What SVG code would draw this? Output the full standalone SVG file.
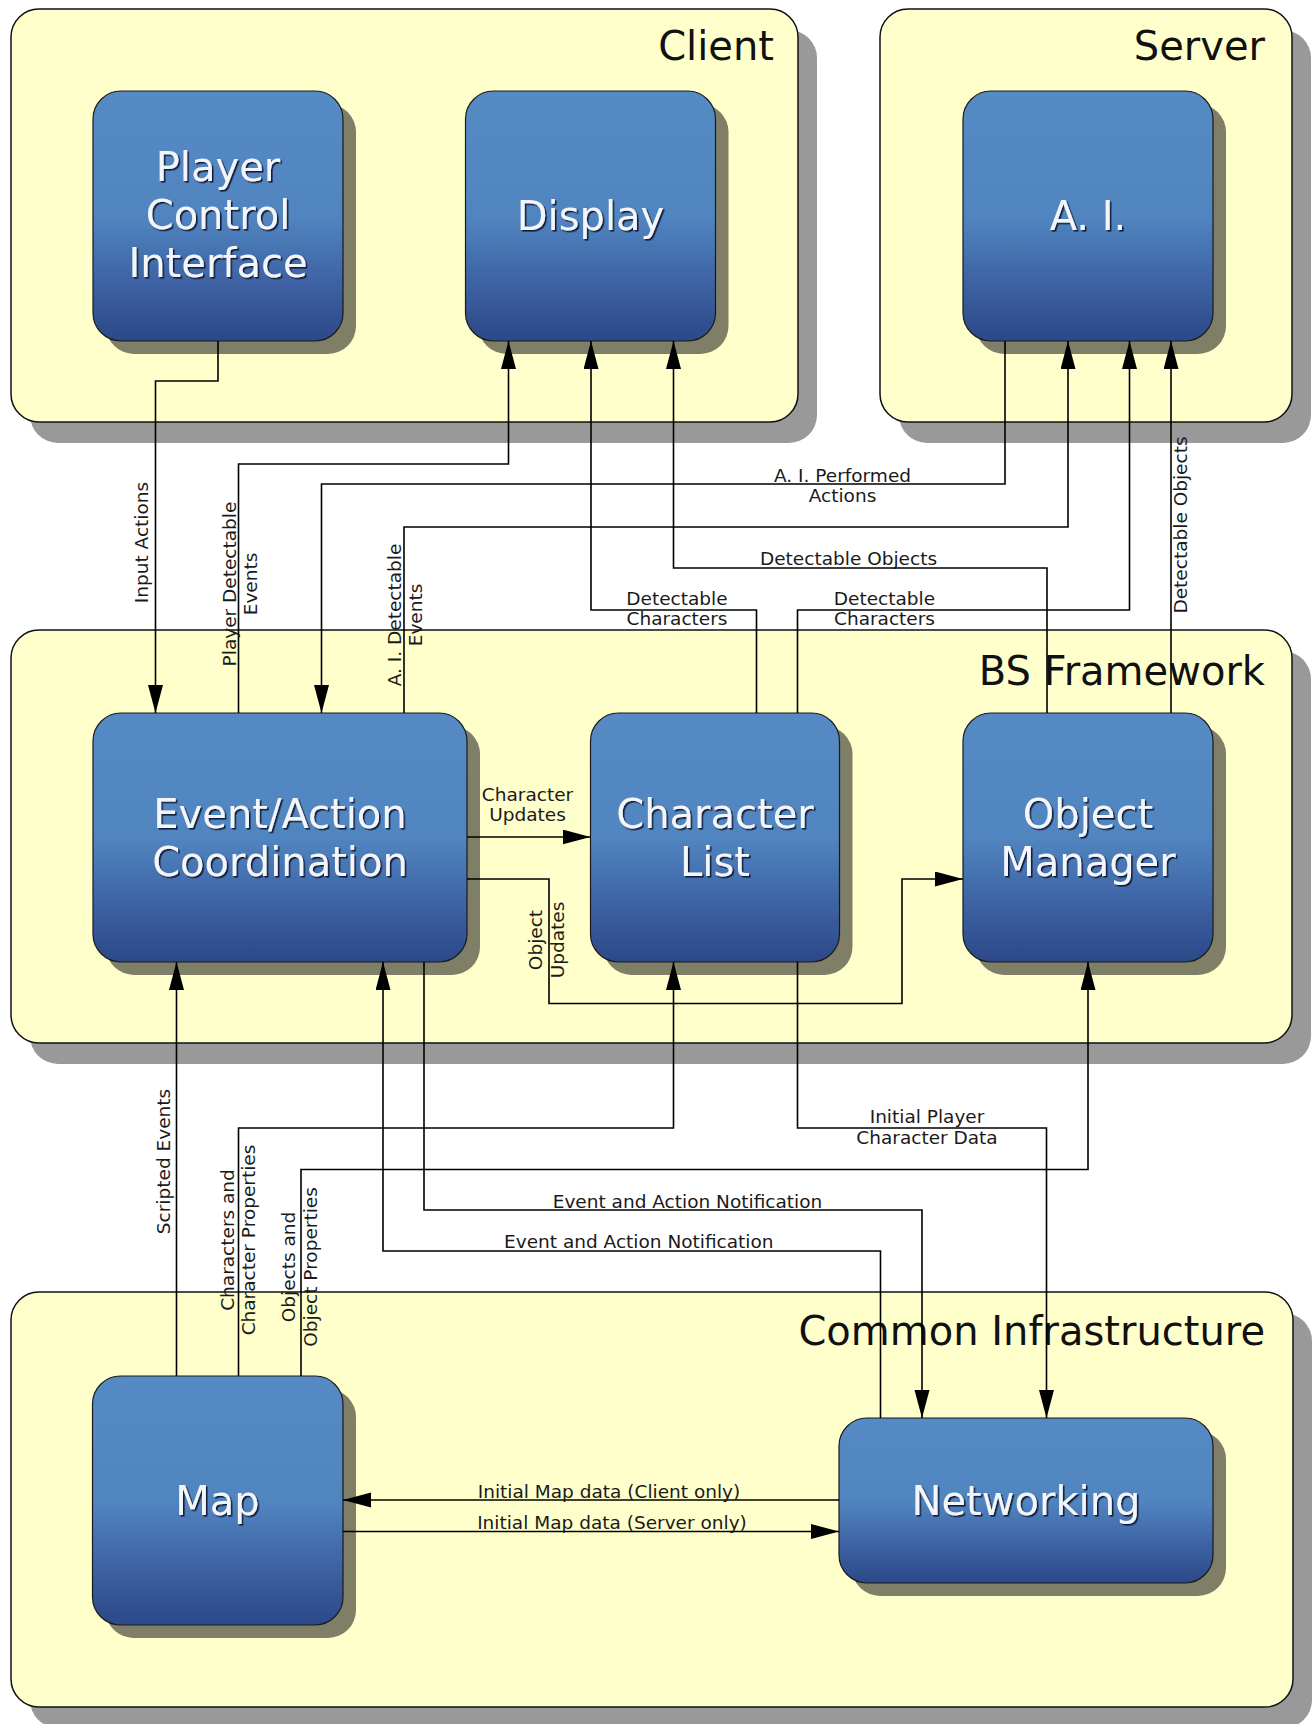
<svg xmlns="http://www.w3.org/2000/svg" width="1312" height="1724" viewBox="0 0 1312 1724">
<defs>
<linearGradient id="nodeGrad" x1="0" y1="0" x2="0" y2="1">
<stop offset="0" stop-color="#558ac5"/>
<stop offset="0.5" stop-color="#5085c0"/>
<stop offset="0.76" stop-color="#3e63a4"/>
<stop offset="1" stop-color="#2c4888"/>
</linearGradient>
<filter id="txtShadow" x="-10%" y="-30%" width="130%" height="160%">
<feDropShadow dx="1.6" dy="1.6" stdDeviation="0.6" flood-color="#0c1733" flood-opacity="0.95"/>
</filter>
<marker id="arrow" markerUnits="userSpaceOnUse" markerWidth="29" markerHeight="16" refX="28" refY="7.5" orient="auto" viewBox="0 0 29 16">
<path d="M0,0 L28,7.5 L0,15 z" fill="#000"/>
</marker>
<style>
.cont{fill:#ffffcc;stroke:#111;stroke-width:1.5}
.contShadow{fill:#999999}
.node{fill:url(#nodeGrad);stroke:#1a1a1a;stroke-width:1.2}
.nodeShadow{fill:#7f7e66}
.title{font-family:"DejaVu Sans","Liberation Sans",sans-serif;font-size:40px;fill:#111;text-anchor:end}
.ntext{font-family:"DejaVu Sans","Liberation Sans",sans-serif;font-size:40px;fill:#f2f5fa;text-anchor:middle;filter:url(#txtShadow)}
.edge{fill:none;stroke:#000;stroke-width:1.6}
.arr{marker-end:url(#arrow)}
.lbl{font-family:"DejaVu Sans","Liberation Sans",sans-serif;font-size:18.5px;fill:#1a1a1a;text-anchor:middle}
</style>
</defs>

<g id="container-client">
<rect class="contShadow" x="30" y="30" width="787" height="413" rx="28"/>
<rect class="cont" x="11" y="9" width="787" height="413" rx="28"/>
<text class="title" x="774" y="60">Client</text>
</g>
<g id="container-server">
<rect class="contShadow" x="899" y="30" width="412" height="413" rx="28"/>
<rect class="cont" x="880" y="9" width="412" height="413" rx="28"/>
<text class="title" x="1265" y="60">Server</text>
</g>
<g id="container-bs-framework">
<rect class="contShadow" x="30" y="651" width="1281" height="413" rx="28"/>
<rect class="cont" x="11" y="630" width="1281" height="413" rx="28"/>
<text class="title" x="1265" y="685">BS Framework</text>
</g>
<g id="container-common-infrastructure">
<rect class="contShadow" x="30" y="1313" width="1282" height="415" rx="28"/>
<rect class="cont" x="11" y="1292" width="1282" height="415" rx="28"/>
<text class="title" x="1265" y="1345">Common Infrastructure</text>
</g>

<g id="node-player-control-interface">
<rect class="nodeShadow" x="106" y="104" width="250" height="250" rx="28"/>
<rect class="node" x="93" y="91" width="250" height="250" rx="28"/>
<text class="ntext" x="218" y="181">Player<tspan x="218" dy="48">Control</tspan><tspan x="218" dy="48">Interface</tspan></text>
</g>
<g id="node-display">
<rect class="nodeShadow" x="478.5" y="104" width="250" height="250" rx="28"/>
<rect class="node" x="465.5" y="91" width="250" height="250" rx="28"/>
<text class="ntext" x="590.5" y="230">Display</text>
</g>
<g id="node-ai">
<rect class="nodeShadow" x="976" y="104" width="250" height="250" rx="28"/>
<rect class="node" x="963" y="91" width="250" height="250" rx="28"/>
<text class="ntext" x="1088" y="230">A. I.</text>
</g>
<g id="node-event-action-coordination">
<rect class="nodeShadow" x="106" y="726" width="374" height="249" rx="28"/>
<rect class="node" x="93" y="713" width="374" height="249" rx="28"/>
<text class="ntext" x="280" y="828">Event/Action<tspan x="280" dy="48">Coordination</tspan></text>
</g>
<g id="node-character-list">
<rect class="nodeShadow" x="603.5" y="726" width="249" height="249" rx="28"/>
<rect class="node" x="590.5" y="713" width="249" height="249" rx="28"/>
<text class="ntext" x="715" y="828">Character<tspan x="715" dy="48">List</tspan></text>
</g>
<g id="node-object-manager">
<rect class="nodeShadow" x="976" y="726" width="250" height="249" rx="28"/>
<rect class="node" x="963" y="713" width="250" height="249" rx="28"/>
<text class="ntext" x="1088" y="828">Object<tspan x="1088" dy="48">Manager</tspan></text>
</g>
<g id="node-map">
<rect class="nodeShadow" x="105.5" y="1389" width="250.5" height="249" rx="28"/>
<rect class="node" x="92.5" y="1376" width="250.5" height="249" rx="28"/>
<text class="ntext" x="217.5" y="1515">Map</text>
</g>
<g id="node-networking">
<rect class="nodeShadow" x="852" y="1431" width="374" height="165" rx="28"/>
<rect class="node" x="839" y="1418" width="374" height="165" rx="28"/>
<text class="ntext" x="1026" y="1515">Networking</text>
</g>

<g id="connectors">
<g id="edge-input-actions">
<path class="edge arr" d="M218,341 V381 H155.5 V713"/>
<text class="lbl" transform="translate(148,542.5) rotate(-90)">Input Actions</text>
</g>
<g id="edge-player-detectable-events">
<path class="edge arr" d="M238.5,713 V464 H508.5 V341"/>
<text class="lbl" transform="translate(235.5,584) rotate(-90)">Player Detectable<tspan x="0" dy="21.5">Events</tspan></text>
</g>
<g id="edge-ai-performed-actions">
<path class="edge arr" d="M1005,341 V484 H321.5 V713"/>
<text class="lbl" x="842.5" y="481.5">A. I. Performed<tspan x="842.5" dy="20">Actions</tspan></text>
</g>
<g id="edge-ai-detectable-events">
<path class="edge arr" d="M404,713 V527 H1068 V341"/>
<text class="lbl" transform="translate(400.5,615) rotate(-90)">A. I. Detectable<tspan x="0" dy="21">Events</tspan></text>
</g>
<g id="edge-detectable-characters-display">
<path class="edge arr" d="M756.5,713 V610 H591 V341"/>
<text class="lbl" x="677" y="605">Detectable<tspan x="677" dy="20">Characters</tspan></text>
</g>
<g id="edge-detectable-objects-display">
<path class="edge arr" d="M1047,713 V568 H673.5 V341"/>
<text class="lbl" x="848.5" y="565">Detectable Objects</text>
</g>
<g id="edge-detectable-characters-ai">
<path class="edge arr" d="M797.5,713 V610 H1129.5 V341"/>
<text class="lbl" x="884.5" y="605">Detectable<tspan x="884.5" dy="20">Characters</tspan></text>
</g>
<g id="edge-detectable-objects-ai">
<path class="edge arr" d="M1171,713 V341"/>
<text class="lbl" transform="translate(1187,525) rotate(-90)">Detectable Objects</text>
</g>
<g id="edge-character-updates">
<path class="edge arr" d="M467,837 H590.5"/>
<text class="lbl" x="527.5" y="801">Character<tspan x="527.5" dy="20">Updates</tspan></text>
</g>
<g id="edge-object-updates">
<path class="edge arr" d="M467,879 H549 V1003.5 H902 V879 H963"/>
<text class="lbl" transform="translate(542,940) rotate(-90)">Object<tspan x="0" dy="21.5">Updates</tspan></text>
</g>
<g id="edge-scripted-events">
<path class="edge arr" d="M176.5,1376 V962"/>
<text class="lbl" transform="translate(170,1161.5) rotate(-90)">Scripted Events</text>
</g>
<g id="edge-characters-properties">
<path class="edge arr" d="M238.5,1376 V1128 H673.5 V962"/>
<text class="lbl" transform="translate(233.5,1240) rotate(-90)">Characters and<tspan x="0" dy="21.5">Character Properties</tspan></text>
</g>
<g id="edge-objects-properties">
<path class="edge arr" d="M301,1376 V1169.5 H1088 V962"/>
<text class="lbl" transform="translate(295,1267) rotate(-90)">Objects and<tspan x="0" dy="21.5">Object Properties</tspan></text>
</g>
<g id="edge-event-notification-to-networking">
<path class="edge arr" d="M424,962 V1210 H922 V1418"/>
<text class="lbl" x="687.5" y="1207.5">Event and Action Notification</text>
</g>
<g id="edge-event-notification-to-eac">
<path class="edge arr" d="M880.5,1418 V1251 H383 V962"/>
<text class="lbl" x="638.8" y="1248">Event and Action Notification</text>
</g>
<g id="edge-initial-player-character-data">
<path class="edge arr" d="M797.5,962 V1128 H1046.5 V1418"/>
<text class="lbl" x="927" y="1123">Initial Player<tspan x="927" dy="21">Character Data</tspan></text>
</g>
<g id="edge-map-client">
<path class="edge arr" d="M839,1500 H343"/>
<text class="lbl" x="609" y="1497.5">Initial Map data (Client only)</text>
</g>
<g id="edge-map-server">
<path class="edge arr" d="M343,1531.5 H839"/>
<text class="lbl" x="612" y="1529">Initial Map data (Server only)</text>
</g>
</g>
</svg>
